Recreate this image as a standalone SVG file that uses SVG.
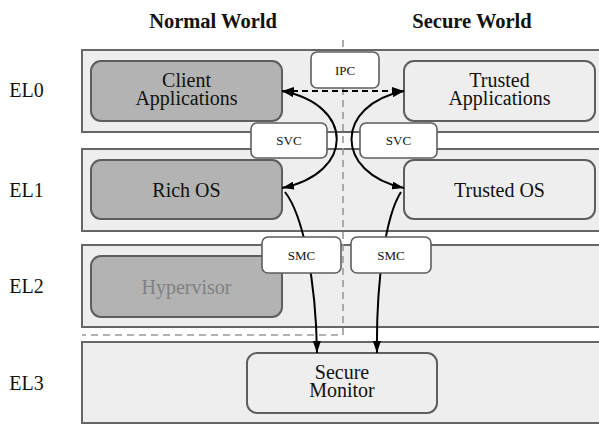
<svg xmlns="http://www.w3.org/2000/svg" width="599" height="424" viewBox="0 0 599 424">
<defs>
<style>
.layer{fill:#eeeeee;stroke:#666666;stroke-width:2}
.nw{fill:#b3b3b3;stroke:#5e5e5e;stroke-width:2}
.sw{fill:#eeeeee;stroke:#5e5e5e;stroke-width:2}
.lbl{fill:#ffffff;stroke:#5e5e5e;stroke-width:1.6}
.sep{fill:none;stroke:#999999;stroke-width:1.6;stroke-dasharray:7,5}
.t{font-family:"Liberation Serif","Times New Roman",serif;fill:#111111;text-anchor:middle}
.big{font-size:20px}
.hdr{font-size:20.5px;font-weight:bold}
.small{font-size:13px}
.conn{fill:none;stroke:#000000;stroke-width:2}
</style>
<marker id="ah" viewBox="0 0 12 8" refX="12" refY="4" markerWidth="12" markerHeight="8" markerUnits="userSpaceOnUse" orient="auto-start-reverse">
<path d="M0,0 L12,4 L0,8 z" fill="#000000"/>
</marker>
</defs>
<rect width="599" height="424" fill="#ffffff"/>
<text class="t hdr" x="213" y="28">Normal World</text>
<text class="t hdr" x="472" y="28">Secure World</text>
<g id="layers">
<g id="el0"><rect class="layer" x="82" y="50" width="520" height="82"/><text class="t big" x="26.5" y="97">EL0</text></g>
<g id="el1"><rect class="layer" x="82" y="149" width="520" height="82"/><text class="t big" x="26.5" y="196.5">EL1</text></g>
<g id="el2"><rect class="layer" x="82" y="245" width="520" height="82"/><text class="t big" x="26.5" y="292.5">EL2</text></g>
<g id="el3"><rect class="layer" x="82" y="342" width="520" height="81"/><text class="t big" x="26.5" y="389.5">EL3</text></g>
</g>
<g id="separator">
<path class="sep" d="M343,40 V335 H82"/>
</g>
<g id="client-apps"><rect class="nw" x="91" y="61" width="191" height="60" rx="10"/><text class="t big" x="186.5" y="87">Client</text><text class="t big" x="186.5" y="105">Applications</text></g>
<g id="rich-os"><rect class="nw" x="91" y="160" width="191" height="59" rx="10"/><text class="t big" x="186.5" y="196.5">Rich OS</text></g>
<g id="hypervisor"><rect class="nw" x="91" y="256" width="191" height="61" rx="10"/><text class="t big" x="186.5" y="293.5" style="fill:#808080">Hypervisor</text></g>
<g id="trusted-apps"><rect class="sw" x="404" y="61" width="191" height="60" rx="10"/><text class="t big" x="499.5" y="87">Trusted</text><text class="t big" x="499.5" y="105">Applications</text></g>
<g id="trusted-os"><rect class="sw" x="404" y="160" width="191" height="59" rx="10"/><text class="t big" x="499.5" y="196.5">Trusted OS</text></g>
<g id="secure-monitor"><rect class="sw" x="247" y="353" width="190" height="60" rx="10"/><text class="t big" x="342" y="379">Secure</text><text class="t big" x="342" y="397">Monitor</text></g>
<g id="connectors">
<path class="conn" d="M282,91 H404" stroke-dasharray="6,4" marker-start="url(#ah)" marker-end="url(#ah)"/>
<path class="conn" d="M282,91 C355,105 355,173 282,188" marker-start="url(#ah)" marker-end="url(#ah)"/>
<path class="conn" d="M404,91 C334,105 334,173 404,188" marker-start="url(#ah)" marker-end="url(#ah)"/>
<path class="conn" d="M285,192 C303,215 316,280 317,353" marker-end="url(#ah)"/>
<path class="conn" d="M401,192 C386,215 376,280 377,353" marker-end="url(#ah)"/>
</g>
<g id="ipc"><rect class="lbl" x="311" y="52" width="68" height="36" rx="6"/><text class="t small" x="345" y="74.5">IPC</text></g>
<g id="svc-normal"><rect class="lbl" x="251" y="123" width="76" height="35" rx="6"/><text class="t small" x="289" y="145">SVC</text></g>
<g id="svc-secure"><rect class="lbl" x="360" y="123" width="77" height="35" rx="6"/><text class="t small" x="398.5" y="145">SVC</text></g>
<g id="smc-normal"><rect class="lbl" x="262" y="237" width="79" height="36" rx="6"/><text class="t small" x="301.5" y="259.5">SMC</text></g>
<g id="smc-secure"><rect class="lbl" x="351" y="237" width="80" height="36" rx="6"/><text class="t small" x="391" y="259.5">SMC</text></g>
</svg>
